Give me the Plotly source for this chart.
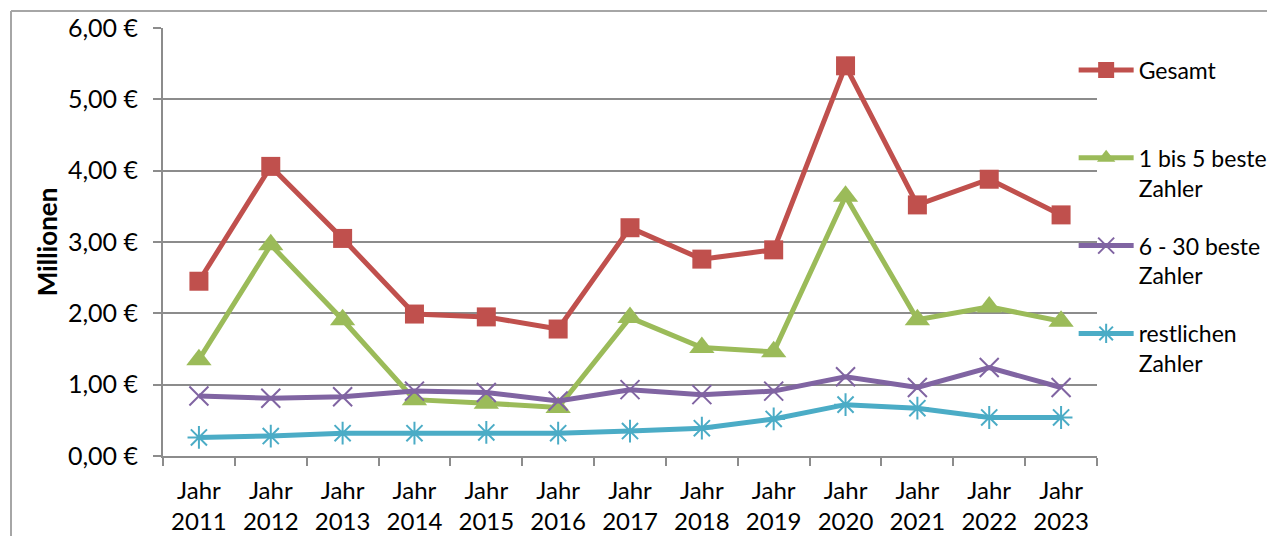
import plotly.graph_objects as go

# Data (in millions of euro)
years = ["2011", "2012", "2013", "2014", "2015", "2016", "2017",
         "2018", "2019", "2020", "2021", "2022", "2023"]
gesamt = [2.45, 4.06, 3.05, 1.99, 1.95, 1.78, 3.20, 2.76, 2.89, 5.47, 3.52, 3.88, 3.38]
beste_1_5 = [1.35, 2.96, 1.91, 0.79, 0.74, 0.68, 1.94, 1.52, 1.46, 3.64, 1.91, 2.09, 1.89]
beste_6_30 = [0.84, 0.81, 0.83, 0.91, 0.89, 0.77, 0.93, 0.86, 0.91, 1.11, 0.96, 1.24, 0.96]
restliche = [0.26, 0.28, 0.32, 0.32, 0.33, 0.32, 0.35, 0.39, 0.52, 0.72, 0.67, 0.54, 0.54]

series_names = ["Gesamt<br> ", "1 bis 5 beste<br>Zahler", "6 - 30 beste<br>Zahler", "restlichen<br>Zahler"]
y_ticks = [0, 1, 2, 3, 4, 5, 6]
y_tick_labels = ["0,00 €", "1,00 €", "2,00 €", "3,00 €", "4,00 €", "5,00 €", "6,00 €"]

x_labels = ["Jahr<br>" + y for y in years]

FONT = "Lato"
GRID = "#8c8c8c"
FS = 25

fig = go.Figure()

styles = [
    ("#C0504D", "square", 19, 0),
    ("#9BBB59", "triangle-up", 22, 0),
    ("#8064A2", "x-thin", 19, 2),
    ("#4BACC6", "asterisk", 19, 2),
]

for name, values, (colour, symbol, size, lw) in zip(
        series_names, [gesamt, beste_1_5, beste_6_30, restliche], styles):
    fig.add_trace(go.Scatter(
        x=x_labels, y=values,
        mode="lines+markers",
        name=name,
        legendgroup=name,
        line=dict(color=colour, width=5),
        marker=dict(symbol=symbol, size=size, color=colour,
                    line=dict(color=colour, width=lw)),
    ))

# the page body adds 8px, so margins are 8px smaller than the screen positions
fig.update_layout(
    width=1275, height=536,
    margin=dict(l=155, r=186, t=20, b=88, autoexpand=False),
    paper_bgcolor="white",
    plot_bgcolor="white",
    font=dict(family=FONT, size=FS, color="black"),
    showlegend=True,
    legend=dict(
        x=0.975, y=0.952, xanchor="left", yanchor="top",
        valign="top",
        tracegroupgap=25,
        itemwidth=55,
        font=dict(family=FONT, size=23, color="black"),
        bgcolor="rgba(0,0,0,0)",
    ),
    xaxis=dict(
        type="category",
        tickson="boundaries",
        ticks="outside", ticklen=8, tickcolor=GRID, tickwidth=2,
        ticklabelstandoff=12,
        showline=True, linecolor=GRID, linewidth=2,
        showgrid=False,
        tickfont=dict(family=FONT, size=24),
        range=[-0.5, len(years) - 0.5],
    ),
    yaxis=dict(
        range=[0, 6],
        tickvals=y_ticks,
        ticktext=y_tick_labels,
        ticks="outside", ticklen=8, tickcolor=GRID, tickwidth=2,
        ticklabelstandoff=10,
        showline=True, linecolor=GRID, linewidth=2,
        showgrid=True, gridcolor=GRID, gridwidth=2,
        zeroline=False,
        tickfont=dict(family=FONT, size=FS),
        title=dict(text="<b>Millionen</b>", font=dict(family=FONT, size=26), standoff=3),
    ),
)

# chart frame (only the top and left edges are visible in the picture)
fig.add_shape(type="line", xref="paper", yref="paper",
              x0=(11 - 163) / 934, x1=1.3, y0=(456 - 11) / 428, y1=(456 - 11) / 428,
              line=dict(color="#a6a6a6", width=2))
fig.add_shape(type="line", xref="paper", yref="paper",
              x0=(11 - 163) / 934, x1=(11 - 163) / 934, y0=(456 - 11) / 428, y1=-0.3,
              line=dict(color="#a6a6a6", width=2))

fig.write_html("out.html")
